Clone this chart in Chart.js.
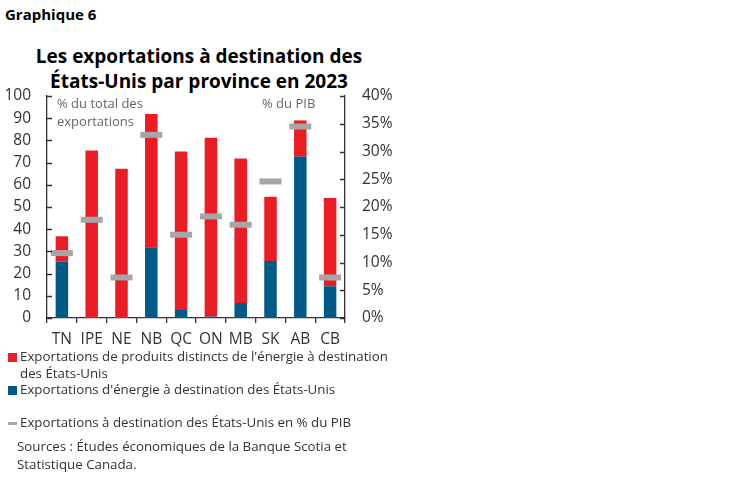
<!DOCTYPE html>
<html>
<head>
<meta charset="utf-8">
<script src="https://cdn.jsdelivr.net/npm/chart.js@4.4.1/dist/chart.umd.min.js"></script>
<style>
  html, body { margin:0; padding:0; background:#fff; }
  body { width:749px; height:482px; position:relative; overflow:hidden; font-family:"Open Sans", sans-serif; color:#333; }
  .abs { position:absolute; white-space:nowrap; }
  #wrap { position:absolute; left:0; top:0; width:749px; height:482px; }
  .sq { position:absolute; width:9px; height:9px; }
</style>
</head>
<body>
<div class="abs" style="left:5px; top:4px; font-size:15px; font-weight:700; color:#000;">Graphique 6</div>
<div class="abs" style="left:0; width:398px; text-align:center; top:44px; font-size:19px; font-weight:700; line-height:25px; color:#000;">Les exportations à destination des<br>États-Unis par province en 2023</div>
<div id="wrap"><canvas id="c" width="749" height="482"></canvas></div>
<div class="abs" style="left:57px; top:94px; font-size:13px; line-height:18px; color:#666;">% du total des<br>exportations</div>
<div class="abs" style="left:262px; top:94px; font-size:13px; line-height:18px; color:#666;">% du PIB</div>

<div class="sq" style="left:8px; top:353px; background:#EC1C24;"></div>
<div class="abs" style="left:20px; top:348px; font-size:13.3px; line-height:17px;">Exportations de produits distincts de l'énergie à destination<br>des États-Unis</div>
<div class="sq" style="left:8px; top:386px; background:#005A87;"></div>
<div class="abs" style="left:20px; top:381px; font-size:13.3px; line-height:17px;">Exportations d'énergie à destination des États-Unis</div>
<div class="sq" style="left:8px; top:422px; height:3px; background:#A6A6A6;"></div>
<div class="abs" style="left:20px; top:414px; font-size:13.3px; line-height:17px;">Exportations à destination des États-Unis en % du PIB</div>
<div class="abs" style="left:17px; top:437px; font-size:13.3px; line-height:18px;">Sources : Études économiques de la Banque Scotia et<br>Statistique Canada.</div>

<script>
const provinces = ["TN","IPE","NE","NB","QC","ON","MB","SK","AB","CB"];
const energy    = [25.5, 0, 0, 31.9, 4.0, 0.7, 6.8, 25.7, 72.7, 14.3];
const nonEnergy = [11.3, 75.5, 67.2, 60.0, 71.0, 80.5, 65.1, 28.9, 16.3, 39.7];
const pctGDP    = [11.7, 17.7, 7.3, 33.0, 15.0, 18.3, 16.8, 24.6, 34.5, 7.3];
const leftTicks = [0,10,20,30,40,50,60,70,80,90,100];
const rightTicks = [0,5,10,15,20,25,30,35,40];

const inwardTicks = {
  id: 'inwardTicks',
  afterDraw(chart) {
    const ctx = chart.ctx;
    const yl = chart.scales.y, yr = chart.scales.y2;
    ctx.save();
    ctx.strokeStyle = '#333';
    ctx.lineWidth = 1.3;
    ctx.beginPath();
    leftTicks.forEach(v => {
      const p = Math.round(yl.getPixelForValue(v)) + 0.5;
      ctx.moveTo(yl.right, p); ctx.lineTo(yl.right + 5, p);
    });
    rightTicks.forEach(v => {
      const p = Math.round(yr.getPixelForValue(v)) + 0.5;
      ctx.moveTo(yr.left, p); ctx.lineTo(yr.left - 5, p);
    });
    ctx.stroke();
    ctx.restore();
  }
};

const tickFont = { family:'Open Sans', size:15.5, weight:400 };

new Chart(document.getElementById('c'), {
  data: {
    labels: provinces,
    datasets: [
      { type:'bar', label:'Énergie', data: energy, backgroundColor:'#005A87', stack:'s', yAxisID:'y', order:2,
        categoryPercentage:1, barPercentage:0.42 },
      { type:'bar', label:'Non-énergie', data: nonEnergy, backgroundColor:'#EC1C24', stack:'s', yAxisID:'y', order:2,
        categoryPercentage:1, barPercentage:0.42 },
      { type:'line', label:'% du PIB', data: pctGDP, yAxisID:'y2', showLine:false, order:0,
        pointStyle:'line', pointRadius:11, pointHoverRadius:11, pointBorderWidth:6,
        pointBorderColor:'#A6A6A6', borderColor:'#A6A6A6', backgroundColor:'#A6A6A6' }
    ]
  },
  options: {
    responsive:false, animation:false,
    layout: { padding: { top:96, bottom:130, left:0, right:344 } },
    plugins: { legend:{display:false}, tooltip:{enabled:false} },
    scales: {
      x: {
        stacked:true,
        grid: { display:true, offset:true, drawOnChartArea:false, drawTicks:true, tickLength:5, color:'#333', lineWidth:1.3 },
        border: { display:true, color:'#333', width:1.3 },
        ticks: { color:'#333', font:tickFont, padding:7, maxRotation:0, autoSkip:false },
        afterFit(s){ s.height = 34; }
      },
      y: {
        position:'left', stacked:true, min:0, max:100,
        afterBuildTicks(s){ s.ticks = leftTicks.map(v=>({value:v})); },
        grid: { display:false, drawTicks:false },
        border: { display:true, color:'#333', width:1.3 },
        ticks: { color:'#333', font:tickFont, padding:16 },
        afterFit(s){ s.width = 47; }
      },
      y2: {
        position:'right', min:0, max:40,
        afterBuildTicks(s){ s.ticks = rightTicks.map(v=>({value:v})); },
        grid: { display:false, drawTicks:false },
        border: { display:true, color:'#333', width:1.3 },
        ticks: { color:'#333', font:tickFont, padding:17, callback:v=>v+'%' },
        afterFit(s){ s.width = 60; }
      }
    }
  },
  plugins:[inwardTicks]
});
</script>
</body>
</html>
